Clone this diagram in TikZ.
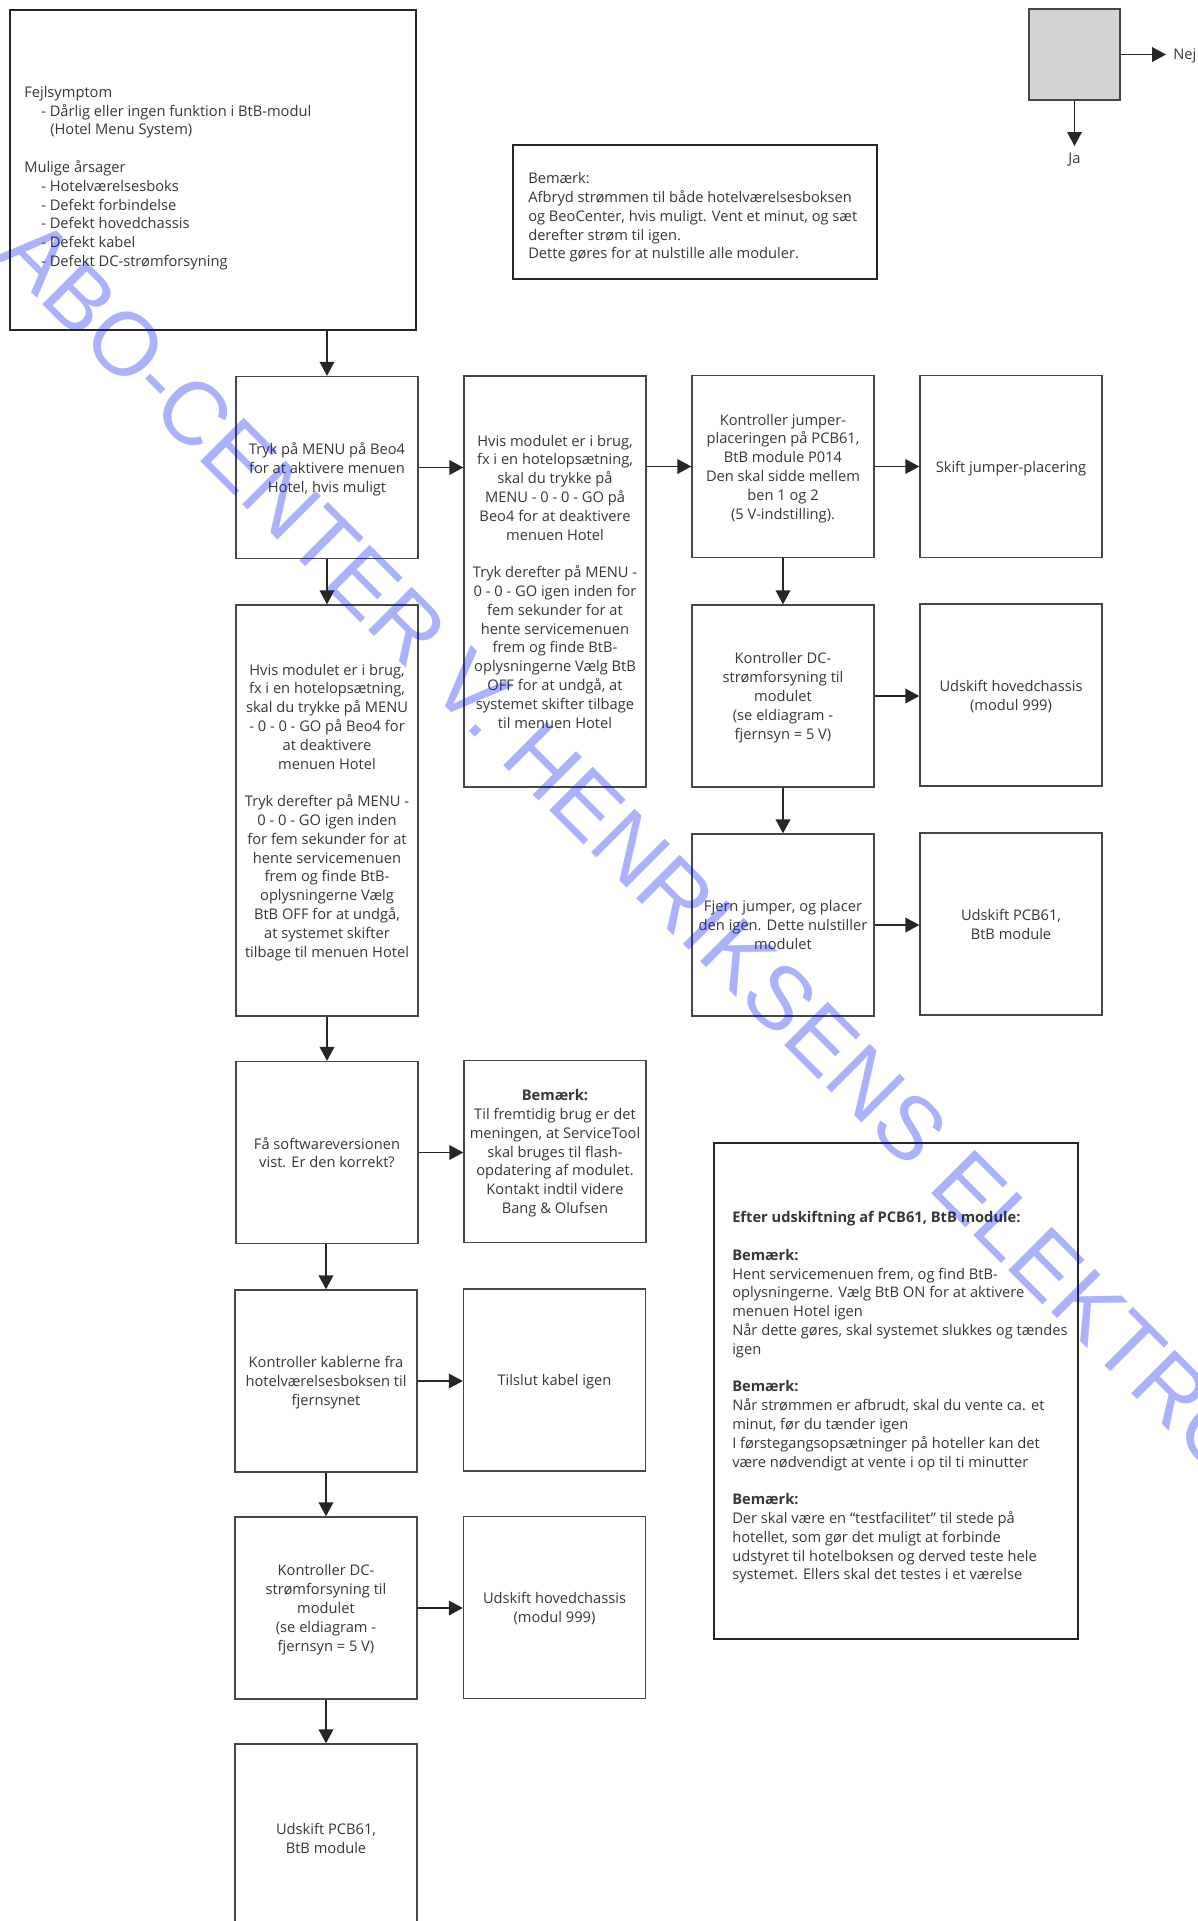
\documentclass[tikz,border=0pt]{standalone}
\usepackage{fontspec}
\setmainfont{Open Sans}
\newfontfamily\wmfont{Liberation Sans}
\usetikzlibrary{arrows.meta}
\definecolor{txt}{RGB}{55,55,55}
\definecolor{thinline}{RGB}{70,70,70}
\definecolor{thickline}{RGB}{38,38,38}
\definecolor{decgray}{RGB}{212,212,214}
\definecolor{wmblue}{RGB}{0,20,240}
\begin{document}
\begin{tikzpicture}[x=0.75pt,y=-0.75pt,
  font=\fontsize{11}{14.1}\selectfont, text=txt,
  flowbox/.style={draw=thinline, line width=1pt, rectangle, inner sep=2pt, align=center,
    minimum width=136.5pt, minimum height=136.5pt, text depth=-4pt},
  tallbox/.style={flowbox, minimum height=308.25pt},
  notebox/.style={draw=thickline, line width=2.2pt, rectangle, inner sep=0pt},
  notetext/.style={anchor=west, align=left, inner sep=0pt},
  arr/.style={draw=thickline, line width=1.1pt, -{Triangle[length=10.5pt,width=11pt]}},
]
\useasboundingbox (0,0) rectangle (1198,1921);
\clip (0,0) rectangle (1198,1921);
\fill[white] (0,0) rectangle (1198,1921);

% top symptom box
\node[notebox, minimum width=304.5pt, minimum height=240pt] (T) at (213,170) {};
\node[notetext] (Ttext) at (24,178) {Fejlsymptom\\
\hspace*{12.75pt}- Dårlig eller ingen funktion i BtB-modul\\
\hspace*{19.5pt}(Hotel Menu System)\\[14.1pt]
Mulige årsager\\
\hspace*{12.75pt}- Hotelværelsesboks\\
\hspace*{12.75pt}- Defekt forbindelse\\
\hspace*{12.75pt}- Defekt hovedchassis\\
\hspace*{12.75pt}- Defekt kabel\\
\hspace*{12.75pt}- Defekt DC-strømforsyning};

% legend decision box
\node[draw=thinline, line width=1pt, fill=decgray, minimum width=68.25pt, minimum height=68.25pt, inner sep=0pt] (Q) at (1074.5,54.5) {};
\coordinate (nejend) at (1166,54.5);
\coordinate (jaend) at (1074.5,146);
\draw[arr] (Q.east) -- (nejend);
\draw[arr] (Q.south) -- (jaend);
\node[anchor=west, inner sep=0pt] (nej) at (1173,55.5) {Nej};
\node[inner sep=0pt] (ja) at (1074.5,160) {Ja};

% note 1
\node[notebox, minimum width=273pt, minimum height=100.5pt] (N1) at (695,212) {};
\node[notetext] (N1text) at (528,217.5) {Bemærk:\\
Afbryd strømmen til både hotelværelsesboksen\\
og BeoCenter, hvis muligt. Vent et minut, og sæt\\
derefter strøm til igen.\\
Dette gøres for at nulstille alle moduler.};

% flow boxes
\node[flowbox] (A) at (327,467.5) {Tryk på MENU på Beo4\\for at aktivere menuen\\Hotel, hvis muligt};
\node[tallbox] (B) at (555,581.5) {Hvis modulet er i brug,\\fx i en hotelopsætning,\\skal du trykke på\\MENU - 0 - 0 - GO på\\Beo4 for at deaktivere\\menuen Hotel\\[14.1pt]Tryk derefter på MENU -\\0 - 0 - GO igen inden for\\fem sekunder for at\\hente servicemenuen\\frem og finde BtB-\\oplysningerne Vælg BtB\\OFF for at undgå, at\\systemet skifter tilbage\\til menuen Hotel};
\node[flowbox] (D) at (783,466.5) {Kontroller jumper-\\placeringen på PCB61,\\BtB module P014\\Den skal sidde mellem\\ben 1 og 2\\(5 V-indstilling).};
\node[flowbox] (E) at (1011,466.5) {Skift jumper-placering};
\node[tallbox] (C) at (327,810.5) {Hvis modulet er i brug,\\fx i en hotelopsætning,\\skal du trykke på MENU\\- 0 - 0 - GO på Beo4 for\\at deaktivere\\menuen Hotel\\[14.1pt]Tryk derefter på MENU -\\0 - 0 - GO igen inden\\for fem sekunder for at\\hente servicemenuen\\frem og finde BtB-\\oplysningerne Vælg\\BtB OFF for at undgå,\\at systemet skifter\\tilbage til menuen Hotel};
\node[flowbox] (F) at (783,696) {Kontroller DC-\\strømforsyning til\\modulet\\(se eldiagram -\\fjernsyn = 5 V)};
\node[flowbox] (G) at (1011,695) {Udskift hovedchassis\\(modul 999)};
\node[flowbox] (H) at (783,925) {Fjern jumper, og placer\\den igen. Dette nulstiller\\modulet};
\node[flowbox] (I) at (1011,924) {Udskift PCB61,\\BtB module};
\node[flowbox] (J) at (327,1152.5) {Få softwareversionen\\vist. Er den korrekt?};
\node[flowbox] (K) at (555,1151.5) {\textbf{Bemærk:}\\Til fremtidig brug er det\\meningen, at ServiceTool\\skal bruges til flash-\\opdatering af modulet.\\Kontakt indtil videre\\Bang \& Olufsen};
\node[flowbox] (L) at (326,1381) {Kontroller kablerne fra\\hotelværelsesboksen til\\fjernsynet};
\node[flowbox] (M) at (554.5,1380) {Tilslut kabel igen};
\node[flowbox] (N) at (326,1608) {Kontroller DC-\\strømforsyning til\\modulet\\(se eldiagram -\\fjernsyn = 5 V)};
\node[flowbox] (O) at (554.5,1607.5) {Udskift hovedchassis\\(modul 999)};
\node[flowbox, minimum height=141pt] (P) at (326,1838) {Udskift PCB61,\\BtB module};

% note 2
\node[notebox, minimum width=273pt, minimum height=372pt] (N2) at (896,1391) {};
\node[notetext] (N2text) at (732,1397.5) {\textbf{Efter udskiftning af PCB61, BtB module:}\\[14.1pt]
\textbf{Bemærk:}\\
Hent servicemenuen frem, og find BtB-\\
oplysningerne. Vælg BtB ON for at aktivere\\
menuen Hotel igen\\
Når dette gøres, skal systemet slukkes og tændes\\
igen\\[14.1pt]
\textbf{Bemærk:}\\
Når strømmen er afbrudt, skal du vente ca. et\\
minut, før du tænder igen\\
I førstegangsopsætninger på hoteller kan det\\
være nødvendigt at vente i op til ti minutter\\[14.1pt]
\textbf{Bemærk:}\\
Der skal være en “testfacilitet” til stede på\\
hotellet, som gør det muligt at forbinde\\
udstyret til hotelboksen og derved teste hele\\
systemet. Ellers skal det testes i et værelse};

% connectors
\draw[arr] (A.north |- T.south) -- (A.north);
\draw[arr] (A.east) -- (A.east -| B.west);
\draw[arr] (B.east |- D.west) -- (D.west);
\draw[arr] (D.east) -- (E.west);
\draw[arr] (A.south) -- (C.north);
\draw[arr] (D.south) -- (F.north);
\draw[arr] (F.east) -- (F.east -| G.west);
\draw[arr] (F.south) -- (H.north);
\draw[arr] (H.east) -- (H.east -| I.west);
\draw[arr] (C.south) -- (J.north);
\draw[arr] (J.east) -- (J.east -| K.west);
\draw[arr] (L.north |- J.south) -- (L.north);
\draw[arr] (L.east) -- (L.east -| M.west);
\draw[arr] (L.south) -- (N.north);
\draw[arr] (N.east) -- (N.east -| O.west);
\draw[arr] (N.south) -- (P.north);

% watermark
\node[rotate=-45, anchor=west, inner sep=0pt, text=wmblue, text opacity=0.33,
  font=\wmfont\fontsize{67}{67}\selectfont] (wm) at (17,235) {ABO-CENTER V. HENRIKSENS ELEKTRO};
\end{tikzpicture}
\end{document}
